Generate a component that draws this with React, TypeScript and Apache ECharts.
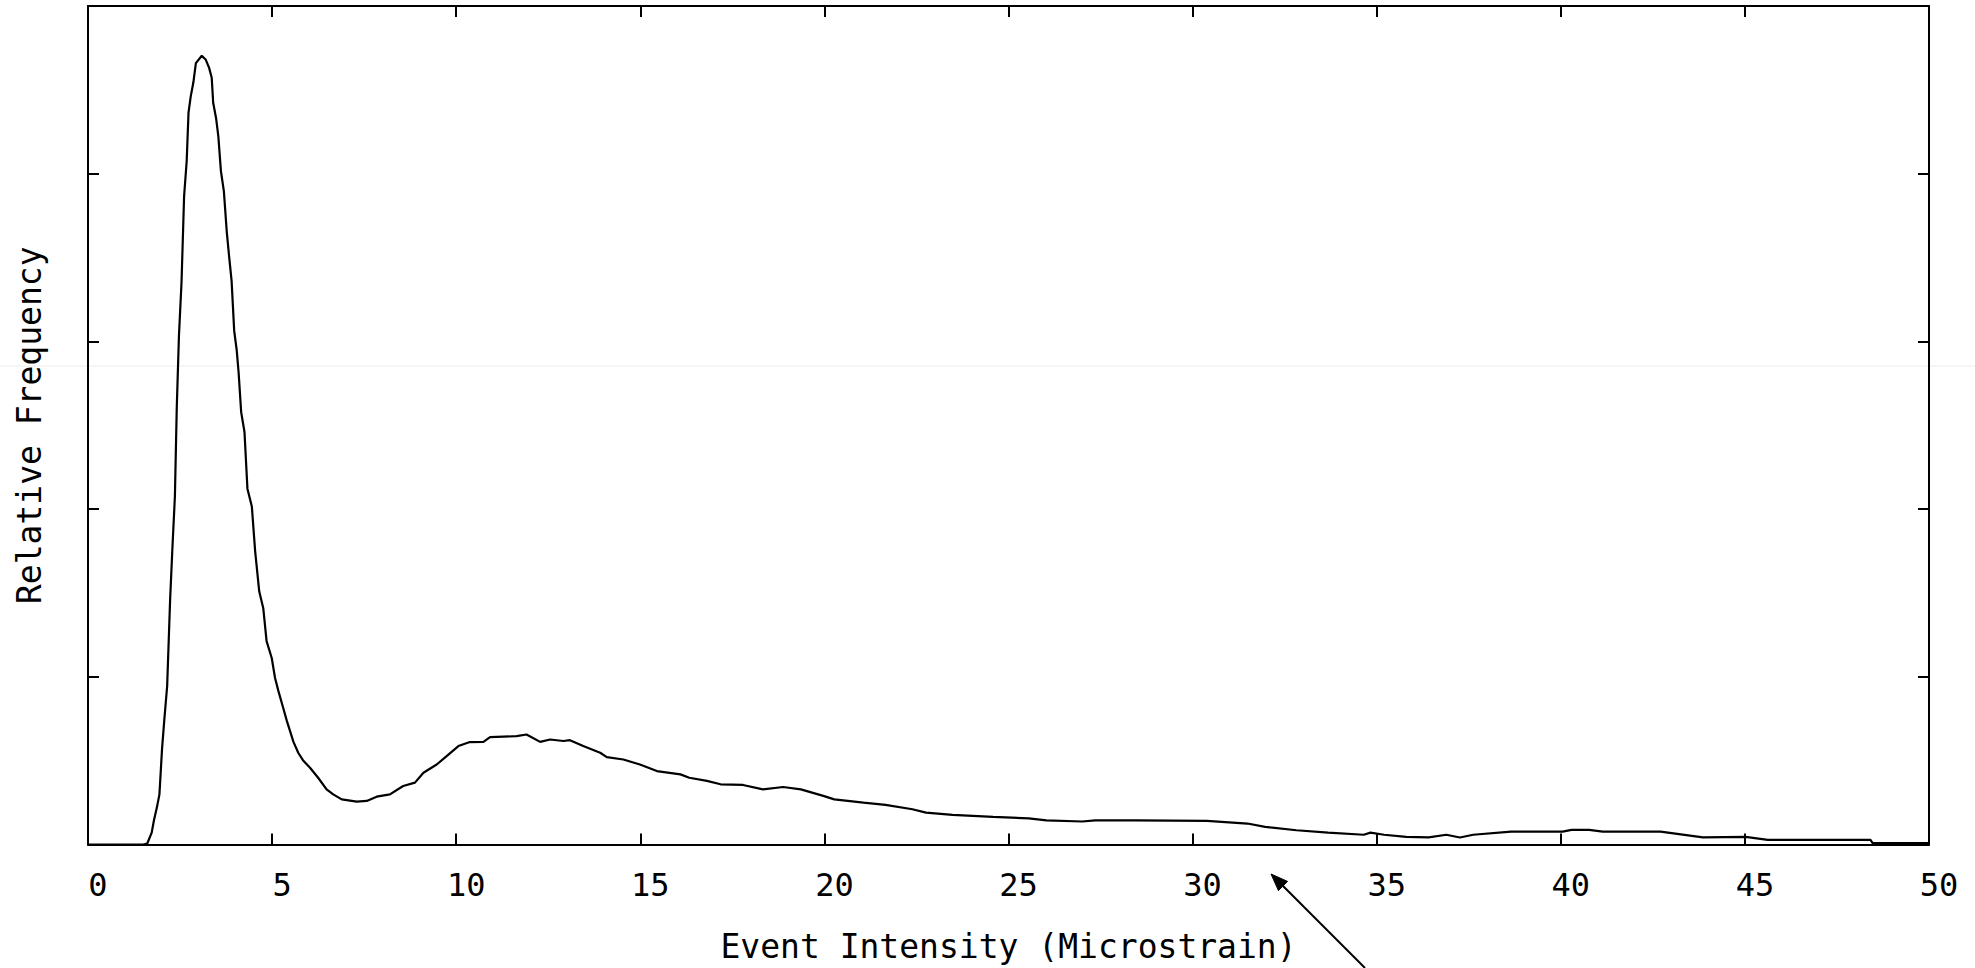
import React, { useEffect, useRef } from "react";
import * as echarts from "echarts";

// Event intensity (microstrain) sample positions
const intensity: number[] = [
  0, 1.5, 1.61, 1.73, 1.79, 1.87, 1.94, 2.01, 2.07, 2.15, 2.23, 2.29, 2.36, 2.41, 2.47, 2.54,
  2.61, 2.68, 2.73, 2.79, 2.86, 2.93, 3.09, 3.2, 3.29, 3.36, 3.4, 3.48, 3.54, 3.61, 3.69,
  3.77, 3.84, 3.9, 3.97, 4.04, 4.09, 4.16, 4.25, 4.33, 4.45, 4.54, 4.65, 4.76, 4.85, 4.99,
  5.08, 5.17, 5.3, 5.4, 5.58, 5.71, 5.85, 6.03, 6.25, 6.48, 6.66, 6.89, 7.3, 7.57, 7.84,
  8.2, 8.56, 8.88, 9.11, 9.47, 9.74, 10.06, 10.37, 10.74, 10.92, 11.64, 11.91, 12.28,
  12.55, 12.91, 13.09, 13.45, 13.91, 14.09, 14.54, 14.99, 15.45, 16.09, 16.33, 16.81,
  17.18, 17.79, 18.33, 18.88, 19.36, 19.97, 20.27, 21.06, 21.66, 22.39, 22.76, 23.48,
  24.58, 25.55, 26.03, 27.0, 27.36, 28.45, 30.39, 31.49, 31.97, 32.82, 33.68, 34.65,
  34.83, 35.2, 35.8, 36.41, 36.89, 37.26, 37.62, 38.65, 40.05, 40.29, 40.77, 41.14,
  42.71, 43.86, 45.02, 45.62, 47.81, 48.41, 48.47, 50.0,
];

// Relative frequency at each position (axis spans 0..5, unlabelled)
const frequency: number[] = [
  0, 0, 0.006, 0.071, 0.143, 0.22, 0.299, 0.567, 0.737, 0.945, 1.458, 1.756, 2.075, 2.598,
  3.034, 3.353, 3.866, 4.074, 4.364, 4.461, 4.542, 4.659, 4.703, 4.679, 4.631, 4.572,
  4.423, 4.329, 4.223, 4.015, 3.896, 3.65, 3.49, 3.361, 3.064, 2.945, 2.816, 2.578, 2.46,
  2.122, 2.015, 1.748, 1.51, 1.409, 1.213, 1.112, 0.993, 0.916, 0.815, 0.737, 0.612,
  0.547, 0.499, 0.458, 0.398, 0.329, 0.299, 0.269, 0.256, 0.26, 0.285, 0.299, 0.349,
  0.369, 0.428, 0.477, 0.527, 0.587, 0.611, 0.612, 0.64, 0.646, 0.656, 0.612, 0.626,
  0.617, 0.622, 0.587, 0.547, 0.521, 0.507, 0.477, 0.438, 0.418, 0.398, 0.379, 0.359,
  0.355, 0.329, 0.343, 0.329, 0.29, 0.269, 0.25, 0.236, 0.21, 0.19, 0.177, 0.165, 0.156,
  0.144, 0.137, 0.144, 0.144, 0.141, 0.125, 0.105, 0.085, 0.071, 0.058, 0.071, 0.058,
  0.046, 0.042, 0.058, 0.042, 0.058, 0.077, 0.077, 0.087, 0.087, 0.077, 0.077, 0.042,
  0.046, 0.028, 0.028, 0.028, 0.008, 0.008,
];

const xTitle = "Event Intensity (Microstrain)";
const yTitle = "Relative Frequency";
const FONT = "'DejaVu Sans Mono', 'Liberation Mono', monospace";

export default function App() {
  const ref = useRef<HTMLDivElement>(null);

  useEffect(() => {
    if (!ref.current) return;
    const chart = echarts.init(ref.current, undefined, { renderer: "svg" });
    const points = intensity.map((x, i) => [x, frequency[i]]);

    const axisCommon = {
      axisLine: { show: true, onZero: false, lineStyle: { color: "#000", width: 2 } },
      axisTick: { show: true, inside: true, length: 11, lineStyle: { color: "#000", width: 2 } },
      splitLine: { show: false },
    };

    // arrow geometry
    const tip = [1271, 874];
    const tail = [1365, 968];
    const dx = tip[0] - tail[0];
    const dy = tip[1] - tail[1];
    const len = Math.hypot(dx, dy);
    const ux = dx / len;
    const uy = dy / len;
    const headLen = 17;
    const halfW = 6.5;
    const bx = tip[0] - ux * headLen;
    const by = tip[1] - uy * headLen;
    const px = -uy;
    const py = ux;

    chart.setOption({
      animation: false,
      backgroundColor: "#fff",
      grid: { left: 88, right: 46, top: 6, bottom: 121, containLabel: false },
      xAxis: [
        {
          type: "value",
          position: "bottom",
          min: 0,
          max: 50,
          interval: 5,
          ...axisCommon,
          axisLabel: {
            show: true,
            color: "#000",
            fontFamily: FONT,
            fontSize: 32,
            margin: 24,
            padding: [0, 0, 0, 20],
          },
          name: xTitle,
          nameLocation: "middle",
          nameGap: 102,
          nameTextStyle: {
            color: "#000",
            fontFamily: FONT,
            fontSize: 33,
            verticalAlign: "middle",
          },
        },
        {
          type: "value",
          position: "top",
          min: 0,
          max: 50,
          interval: 5,
          ...axisCommon,
          axisLabel: { show: false },
        },
      ],
      yAxis: [
        {
          type: "value",
          position: "left",
          min: 0,
          max: 5,
          interval: 1,
          ...axisCommon,
          axisLabel: { show: false },
          name: yTitle,
          nameLocation: "middle",
          nameGap: 59,
          nameTextStyle: {
            color: "#000",
            fontFamily: FONT,
            fontSize: 33,
            verticalAlign: "middle",
          },
        },
        {
          type: "value",
          position: "right",
          min: 0,
          max: 5,
          interval: 1,
          ...axisCommon,
          axisLabel: { show: false },
        },
      ],
      series: [
        {
          type: "line",
          xAxisIndex: 0,
          yAxisIndex: 0,
          data: points,
          showSymbol: false,
          symbol: "none",
          smooth: false,
          lineStyle: { color: "#000", width: 2.2 },
        },
      ],
      graphic: [
        {
          type: "line",
          silent: true,
          z: -1,
          shape: { x1: 0, y1: 366, x2: 1975, y2: 366 },
          style: { stroke: "#ececec", lineWidth: 1 },
        },
        {
          type: "line",
          shape: { x1: tail[0], y1: tail[1], x2: bx, y2: by },
          style: { stroke: "#000", lineWidth: 2 },
        },
        {
          type: "polygon",
          shape: {
            points: [
              [tip[0], tip[1]],
              [bx + px * halfW, by + py * halfW],
              [bx - px * halfW, by - py * halfW],
            ],
          },
          style: { fill: "#000", stroke: "#000", lineWidth: 1 },
        },
      ],
    });

    return () => chart.dispose();
  }, []);

  return (
    <div
      ref={ref}
      style={{ position: "absolute", left: 0, top: 0, width: 1975, height: 968, background: "#fff" }}
    />
  );
}
